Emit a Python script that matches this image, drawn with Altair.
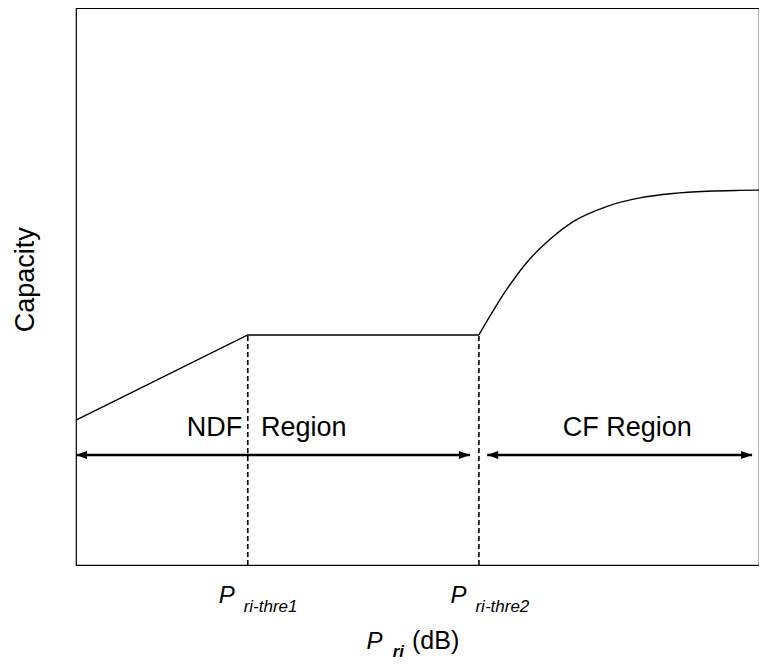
import altair as alt
import pandas as pd

# ---- data (x: along P_ri axis, y: 0-100 capacity units) ----
seg_x = [0.0, 24.9, 58.4]
seg_y = [26.0, 41.3, 41.3]

curve_x = [58.4, 62.5, 65.4, 68.7, 72.0, 77.0, 81.7, 86.5, 91.5, 96.2, 99.0]
curve_y = [41.3, 49.6, 54.4, 58.5, 61.6, 64.4, 65.9, 66.7, 67.1, 67.25, 67.3]

thresholds = [24.9, 58.4]
threshold_cap = 41.3

region_names = ["NDF Region", "CF Region"]
region_start = [0.0, 59.6]
region_end = [57.1, 98.0]
arrow_level = 19.75

FONT = "Liberation Sans"

X = alt.X("x:Q", scale=alt.Scale(domain=[0, 99]), axis=None)
Y = alt.Y("y:Q", scale=alt.Scale(domain=[0, 100]), axis=None)

seg_df = pd.DataFrame({"x": seg_x, "y": seg_y})
curve_df = pd.DataFrame({"x": curve_x, "y": curve_y})
thr_df = pd.DataFrame({"x": thresholds, "y": [0.0] * 2, "y2": [threshold_cap] * 2})
arr_df = pd.DataFrame({"name": region_names, "x": region_start, "x2": region_end,
                       "y": [arrow_level] * 2})
heads_df = pd.DataFrame({
    "x": region_start + region_end,
    "y": [arrow_level] * 4,
    "dir": ["L", "L", "R", "R"],
})

seg = alt.Chart(seg_df).mark_line(color="black", strokeWidth=1.4).encode(x=X, y=Y)
curve = alt.Chart(curve_df).mark_line(color="black", strokeWidth=1.4,
                                      interpolate="monotone").encode(x=X, y=Y)
thr = alt.Chart(thr_df).mark_rule(color="black", strokeWidth=1.6,
                                  strokeDash=[5, 3]).encode(x=X, y=Y, y2="y2:Q")
arrows = alt.Chart(arr_df).mark_rule(color="black", strokeWidth=2.4).encode(
    x=X, x2="x2:Q", y=Y)
head_l = alt.Chart(heads_df[heads_df.dir == "L"]).mark_point(
    shape="M0,0L1,-0.36L1,0.36Z", size=484, filled=True, color="black",
    opacity=1, strokeWidth=0).encode(x=X, y=Y)
head_r = alt.Chart(heads_df[heads_df.dir == "R"]).mark_point(
    shape="M0,0L-1,-0.36L-1,0.36Z", size=484, filled=True, color="black",
    opacity=1, strokeWidth=0).encode(x=X, y=Y)

# region labels
lab_df = pd.DataFrame({
    "t": ["NDF", "Region", "CF Region"],
    "x": [24.1, 26.8, 79.9],
    "y": [23.2, 23.2, 23.2],
    "a": ["right", "left", "center"],
})
labs = []
for al in ["right", "left", "center"]:
    labs.append(alt.Chart(lab_df[lab_df.a == al]).mark_text(
        font=FONT, fontSize=27, align=al, baseline="alphabetic", color="black"
    ).encode(x=X, y=Y, text="t:N"))

# threshold tick labels
p_df = pd.DataFrame({"t": ["P", "P"], "x": [20.7, 54.3], "y": [-6.8, -6.8]})
sub_df = pd.DataFrame({"t": ["ri-thre1", "ri-thre2"], "x": [24.3, 57.9], "y": [-8.4, -8.4]})
p_marks = alt.Chart(p_df).mark_text(font=FONT, fontSize=24, fontStyle="italic",
                                    align="left", baseline="alphabetic").encode(x=X, y=Y, text="t:N")
sub_marks = alt.Chart(sub_df).mark_text(font=FONT, fontSize=17, fontStyle="italic",
                                        align="left", baseline="alphabetic").encode(x=X, y=Y, text="t:N")

# axis title pieces
tp_df = pd.DataFrame({"t": ["P"], "x": [42.1], "y": [-15.0]})
tri_df = pd.DataFrame({"t": ["ri"], "x": [45.9], "y": [-16.6]})
tdb_df = pd.DataFrame({"t": ["(dB)"], "x": [48.7], "y": [-15.0]})
tp = alt.Chart(tp_df).mark_text(font=FONT, fontSize=24, fontStyle="italic",
                                align="left", baseline="alphabetic").encode(x=X, y=Y, text="t:N")
tri = alt.Chart(tri_df).mark_text(font=FONT, fontSize=17, fontStyle="italic", fontWeight="bold",
                                  align="left", baseline="alphabetic").encode(x=X, y=Y, text="t:N")
tdb = alt.Chart(tdb_df).mark_text(font=FONT, fontSize=25,
                                  align="left", baseline="alphabetic").encode(x=X, y=Y, text="t:N")

cap_df = pd.DataFrame({"t": ["Capacity"], "x": [-7.25], "y": [51.2]})
cap = alt.Chart(cap_df).mark_text(font=FONT, fontSize=27, angle=270,
                                  align="center", baseline="middle").encode(x=X, y=Y, text="t:N")

chart = alt.layer(seg, curve, thr, arrows, head_l, head_r, *labs, p_marks, sub_marks,
                  tp, tri, tdb, cap).properties(
    width=683, height=557,
    autosize=alt.AutoSizeParams(type="none"),
    padding={"left": 68, "top": 0, "right": 0, "bottom": 98},
    background="white",
).configure_view(stroke="black", strokeWidth=1.2)

chart.save("out.html", embed_options={"renderer": "svg", "actions": False})
